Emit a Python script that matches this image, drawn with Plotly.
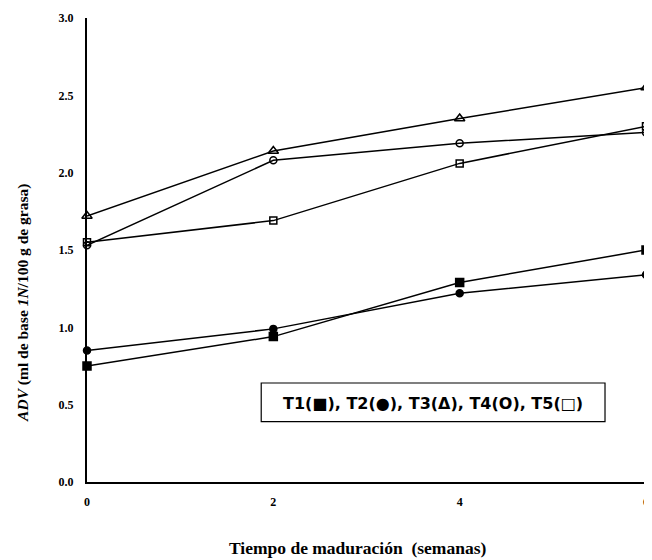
import plotly.graph_objects as go

weeks = [0, 2, 4, 6]
t1 = [0.75, 0.94, 1.29, 1.50]
t2 = [0.85, 0.99, 1.22, 1.34]
t3 = [1.72, 2.14, 2.35, 2.55]
t4 = [1.53, 2.08, 2.19, 2.26]
t5 = [1.55, 1.69, 2.06, 2.30]

series = [
    ("T1", t1, "square", 8),
    ("T2", t2, "circle", 7),
    ("T3", t3, "triangle-up-open", 9),
    ("T4", t4, "circle-open", 7),
    ("T5", t5, "square-open", 7),
]

x_ticks = [0, 2, 4, 6]
y_ticks = [0.0, 0.5, 1.0, 1.5, 2.0, 2.5, 3.0]
y_ticklabels = ["0.0", "0.5", "1.0", "1.5", "2.0", "2.5", "3.0"]

fig = go.Figure()
for name, vals, sym, sz in series:
    fig.add_trace(go.Scatter(
        x=weeks, y=vals, mode="lines+markers", name=name,
        line=dict(color="black", width=1.5),
        marker=dict(symbol=sym, size=sz, color="black",
                    line=dict(color="black", width=1.5)),
        showlegend=False, cliponaxis=False,
    ))

serif = "Liberation Serif"
fig.update_layout(
    width=644, height=552,
    margin=dict(l=79, r=3, t=8, b=78),
    paper_bgcolor="white", plot_bgcolor="white",
    xaxis=dict(range=[0, 6], tickvals=x_ticks, ticks="", showgrid=False,
               zeroline=False, showline=True, linecolor="black", linewidth=2,
               tickfont=dict(family=serif, size=12, color="black", weight="bold"),
               ticklabelstandoff=8),
    yaxis=dict(range=[0, 3], tickvals=y_ticks, ticktext=y_ticklabels, ticks="",
               showgrid=False, zeroline=False, showline=True, linecolor="black",
               linewidth=2,
               tickfont=dict(family=serif, size=12, color="black", weight="bold"),
               ticklabelstandoff=9),
    shapes=[dict(type="rect", xref="x", yref="y", x0=1.87, x1=5.56, y0=0.39, y1=0.64,
                 line=dict(color="black", width=1.2), fillcolor="white")],
    annotations=[
        dict(text="T1(■), T2(●), T3(Δ), T4(O), T5(□)", xref="x", yref="y",
             x=3.71, y=0.508, showarrow=False,
             font=dict(family="DejaVu Sans", size=16, color="black", weight="bold")),
        dict(text="<i>ADV</i> (ml de base <i>1N</i>/100 g de grasa)", xref="paper", yref="paper",
             x=0, xanchor="center", xshift=-64, y=0.386, yanchor="middle", textangle=-90,
             showarrow=False,
             font=dict(family=serif, size=15.5, color="black", weight="bold")),
        dict(text="Tiempo de maduración  (semanas)", xref="paper", yref="paper",
             x=0.484, y=0, yshift=-66, xanchor="center", yanchor="middle", showarrow=False,
             font=dict(family=serif, size=17.5, color="black", weight="bold")),
    ],
)

fig.write_html("out.html")
